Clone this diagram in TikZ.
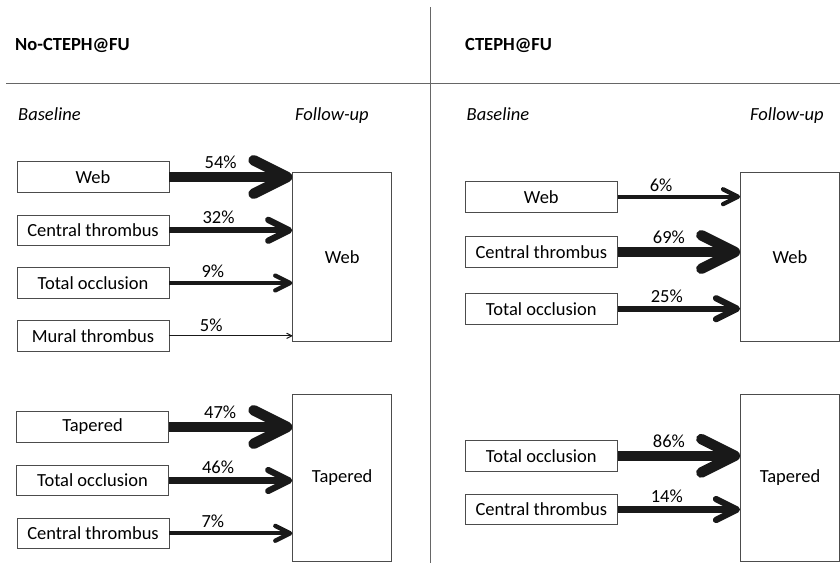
\documentclass[tikz,border=0pt]{standalone}
\usepackage{fontspec}
\setmainfont{Carlito}
\usetikzlibrary{arrows.meta}
\begin{document}
\begin{tikzpicture}[x=1pt,y=-1pt,
    font=\fontsize{18.5}{22}\selectfont,
    rule/.style={draw=black!60, line width=1pt},
    base/.style={draw=black!70, line width=0.8pt, minimum width=152pt, minimum height=30.5pt, inner sep=0pt},
    goal/.style={draw=black!70, line width=0.8pt, minimum width=99pt, inner sep=0pt},
    flow/.style={draw=black!90, -{Straight Barb[length=2pt 3, width=2pt 3, round]}},
    pct/.style={pos=0, anchor=base west, inner sep=0pt, xshift=30pt}]
  \useasboundingbox (0,0) rectangle (840,563);
  % frame
  \draw[rule] (430,7) -- (430,563);
  \draw[rule] (6,83) -- (840,83);
  % headings
  \node[anchor=base west, inner sep=0pt] (hl) at (15,50) {\bfseries No-CTEPH@FU};
  \node[anchor=base west, inner sep=0pt] (hr) at (465,50.5) {\bfseries CTEPH@FU};
  \foreach \n/\x/\t in {bl/18/Baseline, fl/295/Follow-up, br/466.5/Baseline, fr/750/Follow-up}
    \node[anchor=base west, inner sep=0pt] (\n) at (\x,120.5) {\itshape \t};
  % baseline boxes
  \foreach \n/\x/\y/\t in {a1/93/177/Web, a2/93/230.3/Central thrombus, a3/93/283/Total occlusion,
      a4/93/335.8/Mural thrombus, b1/92.5/427/Tapered, b2/92.5/480.5/Total occlusion,
      b3/93/533.3/Central thrombus, c1/541.3/196.7/Web, c2/541.3/252/Central thrombus,
      c3/541.3/308.7/Total occlusion, d1/541.3/455.8/Total occlusion, d2/541.3/509.5/Central thrombus}
    \node[base] (\n) at (\x,\y) {\t};
  % follow-up boxes
  \node[goal, minimum height=169.4pt] (wa) at (342.2,257) {Web};
  \node[goal, minimum height=167.7pt] (ta) at (342.2,477.8) {Tapered};
  \node[goal, minimum height=169.4pt] (wb) at (790,257) {Web};
  \node[goal, minimum height=167.7pt] (tb) at (790,477.8) {Tapered};
  % arrows
  \foreach \s/\t/\w/\p in {a1/wa/10.5/54, a2/wa/6.3/32, a3/wa/4.3/9, a4/wa/1/5,
      b1/ta/10.5/47, b2/ta/6.3/46, b3/ta/4.3/7, c1/wb/4.3/6, c2/wb/10.5/69,
      c3/wb/6.3/25, d1/tb/10.5/86, d2/tb/6.3/14}
    \draw[flow, line width=\w pt] (\s.east) -- (\s.east -| \t.west)
      node[pct, yshift=\w*0.5pt+3.5pt] {\p\%};
\end{tikzpicture}
\end{document}
